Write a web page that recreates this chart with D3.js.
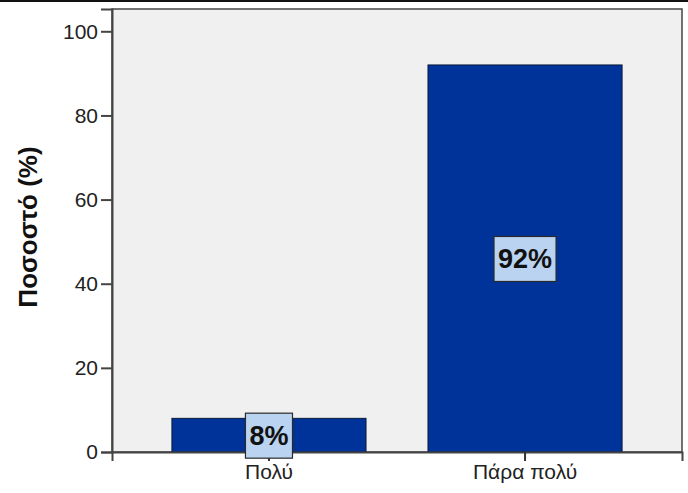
<!DOCTYPE html>
<html>
<head>
<meta charset="utf-8">
<script src="https://cdn.jsdelivr.net/npm/d3@7"></script>
<style>
  html, body { margin: 0; padding: 0; background: #ffffff; }
  svg { display: block; }
</style>
</head>
<body>
<script>
// Response categories and their percentages
const categories = ["Πολύ", "Πάρα πολύ"];
const values = [8, 92];
const valueLabels = ["8%", "92%"];
const yTicks = [0, 20, 40, 60, 80, 100];
const yTitle = "Ποσοστό (%)";

const width = 688, height = 493;
const plot = { left: 112, right: 682, top: 9, bottom: 452 };
const font = "Arial, 'Liberation Sans', sans-serif";

const svg = d3.select("body").append("svg")
  .attr("width", width)
  .attr("height", height);

// thin dark rule along the top edge
svg.append("rect")
  .attr("x", 0).attr("y", 0)
  .attr("width", width).attr("height", 2)
  .attr("fill", "#111");

const x = d3.scaleBand()
  .domain(categories)
  .range([plot.left, plot.right])
  .paddingInner(0.242)
  .paddingOuter(0.234);

const y = d3.scaleLinear()
  .domain([0, 105.3])
  .range([plot.bottom, plot.top]);

// plot background
svg.append("rect")
  .attr("x", plot.left).attr("y", plot.top)
  .attr("width", plot.right - plot.left)
  .attr("height", plot.bottom - plot.top)
  .attr("fill", "#f0f0f0")
  .attr("stroke", "#444")
  .attr("stroke-width", 1.5);

// bars
svg.append("g").selectAll("rect")
  .data(categories)
  .join("rect")
  .attr("x", d => x(d))
  .attr("y", (d, i) => y(values[i]))
  .attr("width", x.bandwidth())
  .attr("height", (d, i) => y(0) - y(values[i]))
  .attr("fill", "#003399")
  .attr("stroke", "#0a1a3a")
  .attr("stroke-width", 1);

// y axis
const yAxis = svg.append("g")
  .attr("transform", `translate(${plot.left},0)`)
  .call(d3.axisLeft(y).tickValues(yTicks).tickSize(11).tickPadding(3).tickFormat(d3.format("d")));
yAxis.select(".domain").attr("stroke", "#444").attr("stroke-width", 2);
yAxis.selectAll(".tick line").attr("stroke", "#444").attr("stroke-width", 2);
yAxis.selectAll(".tick text")
  .attr("fill", "#222")
  .style("font-family", font)
  .style("font-size", "21px");

// x axis
const xAxis = svg.append("g")
  .attr("transform", `translate(0,${plot.bottom})`)
  .call(d3.axisBottom(x).tickSize(9).tickPadding(3));
xAxis.select(".domain").attr("stroke", "#444").attr("stroke-width", 2);
xAxis.selectAll(".tick line").attr("stroke", "#333").attr("stroke-width", 2);
xAxis.selectAll(".tick text")
  .attr("fill", "#222")
  .style("font-family", font)
  .style("font-size", "21px");

// y axis title
svg.append("text")
  .attr("transform", `translate(37,227) rotate(-90)`)
  .attr("text-anchor", "middle")
  .style("font-family", font)
  .style("font-size", "26px")
  .style("font-weight", "bold")
  .attr("fill", "#111")
  .text(yTitle);

// value labels, boxed, centred at half of each bar
const labels = svg.append("g").selectAll("g")
  .data(categories)
  .join("g")
  .attr("transform", (d, i) => `translate(${x(d) + x.bandwidth() / 2},${y(values[i] / 2)})`);

labels.each(function(d, i) {
  const g = d3.select(this);
  const t = g.append("text")
    .attr("text-anchor", "middle")
    .attr("dy", "0.36em")
    .style("font-family", font)
    .style("font-size", "27px")
    .style("font-weight", "bold")
    .attr("fill", "#111")
    .text(valueLabels[i]);
  const bb = t.node().getBBox();
  g.insert("rect", "text")
    .attr("x", bb.x - 4)
    .attr("y", -22)
    .attr("width", bb.width + 8)
    .attr("height", 45)
    .attr("fill", "#b9d3f0")
    .attr("stroke", "#2a2a2a")
    .attr("stroke-width", 1.2);
});
</script>
</body>
</html>
